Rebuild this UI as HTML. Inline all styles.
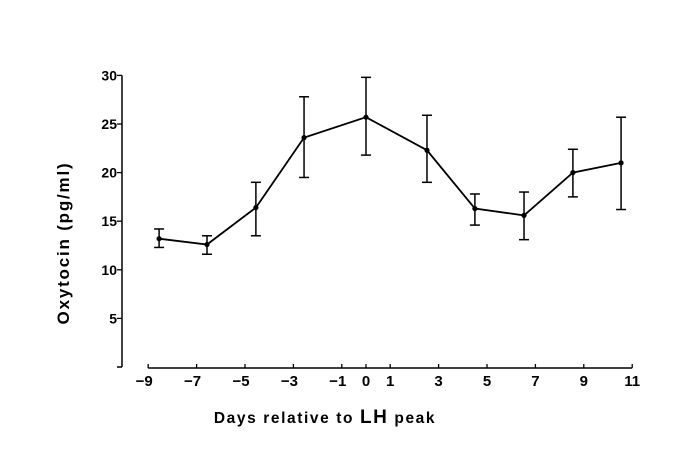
<!DOCTYPE html>
<html><head><meta charset="utf-8"><style>
html,body{margin:0;padding:0;background:#fff;}
svg{display:block;font-family:"Liberation Sans",sans-serif;}
</style></head><body>
<svg id="chart" width="674" height="454" viewBox="0 0 674 454">
<g id="axes"></g>
<g id="series"></g>
<text x="0" y="0" transform="translate(69,243) rotate(-90)" text-anchor="middle" font-size="17" font-weight="bold" letter-spacing="1.8">Oxytocin (pg/ml)</text>
<text x="325" y="423" text-anchor="middle" font-size="15.5" font-weight="bold" letter-spacing="1.6">Days  relative to <tspan font-size="19">LH</tspan> peak</text>
</svg>
<script>
const days = [-8.55, -6.57, -4.55, -2.56, 0, 2.52, 4.5, 6.53, 8.55, 10.54];
const means = [13.2, 12.6, 16.4, 23.6, 25.7, 22.3, 16.3, 15.6, 20.0, 21.0];
const lows = [12.3, 11.6, 13.5, 19.5, 21.8, 19.0, 14.6, 13.1, 17.5, 16.2];
const highs = [14.2, 13.5, 19.0, 27.8, 29.8, 25.9, 17.8, 18.0, 22.4, 25.7];
const yTicks = [5, 10, 15, 20, 25, 30];
const xTicks = [-9, -7, -5, -3, -1, 0, 1, 3, 5, 7, 9, 11];

const NS = "http://www.w3.org/2000/svg";
function xs(d){ return 366 + 24.2 * d; }
function ys(v){ return 367 - 9.72 * v; }
function mk(parent, tag, attrs){
  const e = document.createElementNS(NS, tag);
  for (const k in attrs) e.setAttribute(k, attrs[k]);
  parent.appendChild(e);
  return e;
}
const axes = document.getElementById('axes');
const series = document.getElementById('series');

const yAxis = mk(axes, 'line', {x1:122, y1:ys(30), x2:122, y2:ys(0), stroke:'#000', 'stroke-width':1.5});


const yb = mk(axes, 'line', {x1:117, y1:ys(0), x2:122, y2:ys(0), stroke:'#000', 'stroke-width':1.5});


const xAxis = mk(axes, 'line', {x1:xs(-9), y1:368, x2:xs(11), y2:368, stroke:'#000', 'stroke-width':1.5});



yTicks.forEach(v => {
  const t = mk(axes, 'line', {x1:117, y1:ys(v), x2:122, y2:ys(v), stroke:'#000', 'stroke-width':1.3});
  
  
  const l = mk(axes, 'text', {x:117, y:ys(v) + 5, 'text-anchor':'end', 'font-size':14, 'font-weight':'bold'});
  l.textContent = v;
  
  
});
xTicks.forEach(d => {
  const t = mk(axes, 'line', {x1:xs(d), y1:364, x2:xs(d), y2:368, stroke:'#000', 'stroke-width':1.3});
  
  
  const l = mk(axes, 'text', {x:xs(d) - (d < 0 ? 4 : 0), y:386, 'text-anchor':'middle', 'font-size':15, 'font-weight':'bold'});
  l.textContent = d < 0 ? '\u2212' + Math.abs(d) : d;
  
  
});

const pts = days.map((d, i) => xs(d) + ',' + ys(means[i])).join(' ');
const line = mk(series, 'polyline', {points:pts, fill:'none', stroke:'#000', 'stroke-width':1.8});



days.forEach((d, i) => {
  const x = xs(d);
  const g = mk(series, 'g', {});
  
  
  mk(g, 'line', {x1:x, y1:ys(lows[i]), x2:x, y2:ys(highs[i]), stroke:'#000', 'stroke-width':1.5});
  mk(g, 'line', {x1:x - 5, y1:ys(lows[i]), x2:x + 5, y2:ys(lows[i]), stroke:'#000', 'stroke-width':1.5});
  mk(g, 'line', {x1:x - 5, y1:ys(highs[i]), x2:x + 5, y2:ys(highs[i]), stroke:'#000', 'stroke-width':1.5});
  const p = mk(series, 'circle', {cx:x, cy:ys(means[i]), r:2.6, fill:'#000'});
  
  
});
</script>
</body></html>
